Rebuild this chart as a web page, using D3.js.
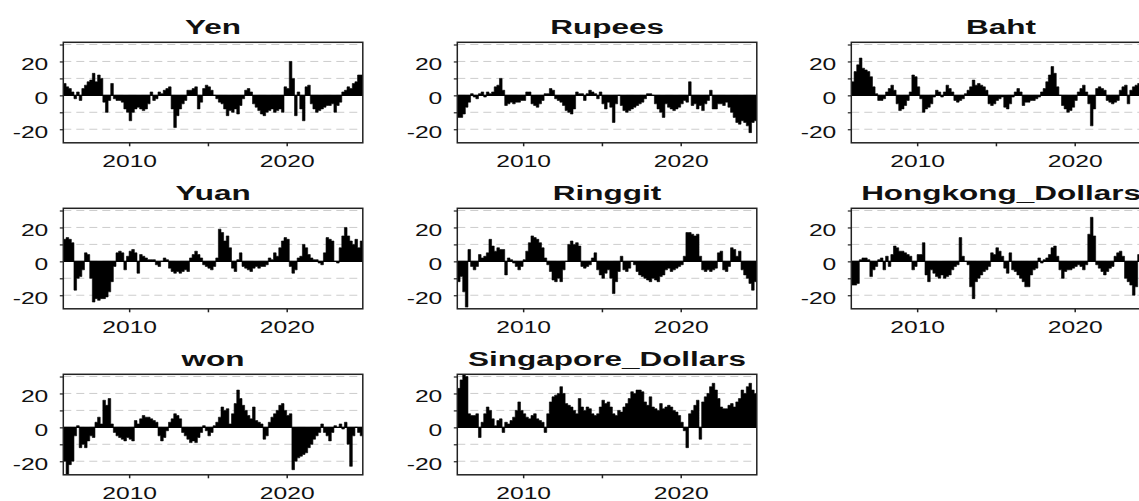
<!DOCTYPE html>
<html>
<head>
<meta charset="utf-8">
<script src="https://cdn.jsdelivr.net/npm/d3@7"></script>
<style>
html, body { margin: 0; padding: 0; background: #fff; overflow: hidden; }
text { font-family: "Liberation Sans", Arial, sans-serif; fill: #111; }
</style>
</head>
<body>
<svg id="chart" width="1139" height="501"></svg>
<script>
// panel titles, in drawing order (row by row)
var currencies = ["Yen", "Rupees", "Baht", "Yuan", "Ringgit", "Hongkong_Dollars", "won", "Singapore_Dollars"];

// one value every two months, first one at late 2005
var startYear = 2005.83;
var stepsPerYear = 6;

var yTicks = [-20, -10, 0, 10, 20, 30];
var yLabels = [-20, 0, 20];
var xTicks = [2010, 2015, 2020];
var xLabels = [2010, 2020];

var yen = [7,5,4,2,-2,2,-3,4,6,8, 9,13,8,12,10,-4,-10,-3,7,-2, -3,-3,-4,-8,-10,-15,-10,-8,-7,-8,
  -9,-8,-5,2,-3,-2,2,1,3,4, 5,-8,-19,-12,-8,-5,-3,3,3,4, 5,-8,-4,4,6,5,3,0,-2,-4,
  -5,-8,-12,-9,-10,-8,-11,-6,-2,3, 4,2,-5,-7,-9,-11,-12,-10,-9,-8, -10,-9,-8,-10,5,4,20,10,-12,2,
  -8,-15,5,6,-5,-8,-10,-9,-8,-7, -6,-6,-5,-10,-6,-4,2,3,5,4, 7,8,12,12];
var rupees = [-13,-13,-11,-7,-4,1,-1,-2,1,2, -1,2,1,2,5,6,10,3,-6,-5, -4,-5,-4,-4,-3,-3,2,2,-5,-6,
  -7,-5,-3,1,1,4,3,-2,-3,-4, -6,-9,-10,-11,-8,2,1,1,-3,1, 3,2,1,-2,2,-5,-8,-4,-7,-16,
  -5,0,-6,-9,-10,-9,-8,-7,-6,-5, -4,-2,1,1,0,-5,-8,-10,-13,-5, -7,-8,-9,-8,-7,-5,-3,-4,8,-6,
  -5,-8,-6,-9,-5,-3,3,-8,-8,-5, -5,-6,-4,-7,-10,-13,-16,-17,-15,-16, -18,-22,-16,-15];
var baht = [8,14,18,22,16,15,14,11,5,1, -3,-3,-2,2,4,6,3,-5,-9,-8, -6,-3,2,12,11,5,-2,-10,-8,-7,
  -5,-1,3,2,-1,2,6,4,2,-3, -4,-3,-2,1,3,5,9,6,7,6, 5,3,-5,-6,-5,-3,-2,-1,-7,-8,
  -5,-1,2,4,2,-6,-4,-4,-3,-3, -2,-1,2,4,8,12,17,13,5,0, -6,-8,-10,-9,-7,-3,2,4,6,2,
  -5,-18,-8,4,5,4,3,-3,-4,-5, -4,-3,3,5,6,-5,3,5,6,7, 5,4,3,2];
var yuan = [13,14,13,11,-17,-10,-9,-5,5,4, -10,-24,-22,-23,-22,-22,-21,-18,-12,-3, 5,6,5,-5,3,6,7,5,-7,4,
  3,2,1,1,1,-2,-3,0,2,1, -4,-6,-7,-6,-7,-6,-5,-6,2,4, 6,4,2,-2,-3,-4,-5,-3,2,19,
  17,12,15,8,-4,-6,1,5,-3,-4, -5,-6,-4,-3,-4,-3,-3,-2,2,1, 5,3,8,12,14,13,-3,-7,-5,2,
  3,10,8,4,2,1,1,-1,-2,5, 14,13,12,0,-1,8,15,20,15,12, 10,13,8,12];
var ringgit = [-12,-9,-18,-27,7,-3,-5,-3,4,2, 3,5,13,9,6,8,7,7,-8,2, 1,-1,-3,-5,-3,1,6,11,15,14,
  13,11,8,2,-2,-6,-11,-12,-10,-12, -5,0,10,12,10,11,9,-3,-4,-3, -2,2,5,-5,-8,-10,-7,-5,-10,-19,
  -12,-6,3,-5,-6,-4,0,-2,-6,-8, -9,-10,-11,-12,-10,-11,-12,-9,-8,-5, -4,-6,-5,-4,-3,-2,3,17,17,16,
  15,16,3,-5,-6,-5,-6,-5,-4,5, 6,-5,-6,-3,8,7,3,6,-5,-8, -10,-13,-17,-12];
var hongkong = [-14,-14,-13,1,2,2,1,-9,-5,-3, 1,2,-5,3,-3,4,9,8,6,6, 5,4,3,-5,-3,4,4,11,-8,-12,
  -5,-7,-9,-10,-8,-10,-9,-8,-5,-3, -2,14,3,0,-2,-15,-22,-12,-10,-8, -6,-5,-3,5,4,8,6,3,-4,-7,
  5,-5,-6,-8,-10,-12,-15,-15,-8,-5, -4,2,-1,1,2,4,8,9,3,-5, -10,-6,-5,-5,-4,-3,-2,-3,-5,-2,
  16,26,15,-2,-4,-6,-8,-6,-4,-3, 3,5,6,3,-10,-12,-14,-20,-15,4, -18,-10,-8,-6];
var won = [-20,-28,-22,-20,-5,1,-12,-10,-12,-8, -5,-6,3,6,2,16,13,17,2,-3, -5,-6,-7,-8,-6,-7,-8,4,2,5,
  7,6,6,5,4,3,-5,-8,-6,-2, 3,5,8,7,5,-3,-5,-7,-9,-8, -9,-6,-3,1,-2,-5,-3,1,3,6,
  12,10,11,2,8,14,22,17,13,10, 7,5,12,4,3,2,-7,-5,3,6, 8,10,13,14,10,7,8,-25,-20,-18,
  -17,-16,-15,-12,-10,-7,-5,-3,2,-3, -5,-8,-3,1,0,2,-1,3,-10,-23, -5,0,-3,-5];
var singapore = [23,28,31,30,8,7,7,8,-6,3, 8,12,10,5,1,4,5,-3,3,2, 4,6,10,15,10,8,6,5,7,8,
  5,4,3,-3,8,15,18,19,20,24, 20,14,13,12,10,8,17,12,10,12, 11,8,7,8,12,16,14,15,12,8,
  7,10,9,12,14,17,21,20,22,22, 21,15,13,18,12,11,10,14,11,12, 13,12,10,9,7,3,-2,-12,8,10,
  13,16,-7,15,18,20,24,26,22,17, 12,11,11,13,14,12,15,17,22,20, 24,26,22,20];

var seriesList = [yen, rupees, baht, yuan, ringgit, hongkong, won, singapore];

// layout (the picture is stretched sideways, so text gets a horizontal scale)
var colLeft = [63.3, 457.3, 851.3];
var rowTop = [42.3, 208.3, 374.3];
var plotW = 299.5, plotH = 100.5;
var tickStretch = 1.45, titleStretch = 1.5;

var svg = d3.select("#chart");

currencies.forEach(function(name, k) {
    var vals = seriesList[k];
    var left = colLeft[k % 3], top = rowTop[Math.floor(k / 3)];
    var g = svg.append("g").attr("transform", "translate(" + left + "," + top + ")");

    var x = d3.scaleLinear().domain([2005.82, 2024.83]).range([0, plotW]);
    var y = d3.scaleLinear().domain([-28, 31.3]).range([plotH, 0]);

    //dashed grid
    g.selectAll("line.grid").data(yTicks).enter().append("line")
        .attr("class", "grid")
        .attr("x1", 0).attr("x2", plotW)
        .attr("y1", function(d) { return y(d); })
        .attr("y2", function(d) { return y(d); })
        .attr("stroke", "#cdcdcd")
        .attr("stroke-width", 1)
        .attr("stroke-dasharray", "8,5");

    //clip
    var clipId = "clip" + k;
    g.append("clipPath").attr("id", clipId)
        .append("rect").attr("width", plotW).attr("height", plotH);

    //bars as a stepped area from zero
    var pts = vals.map(function(v, i) { return { t: startYear + i / stepsPerYear, v: v }; });
    pts.push({ t: startYear + vals.length / stepsPerYear, v: vals[vals.length - 1] });
    var area = d3.area()
        .curve(d3.curveStepAfter)
        .x(function(d) { return x(d.t); })
        .y0(y(0))
        .y1(function(d) { return y(d.v); });
    g.append("path")
        .datum(pts)
        .attr("clip-path", "url(#" + clipId + ")")
        .attr("d", area)
        .attr("fill", "#000")
        .attr("stroke", "#000")
        .attr("stroke-width", 0.6);

    g.append("line")
        .attr("x1", 0).attr("x2", plotW)
        .attr("y1", y(0)).attr("y2", y(0))
        .attr("stroke", "#000").attr("stroke-width", 1.2);

    //frame
    g.append("rect")
        .attr("width", plotW).attr("height", plotH)
        .attr("fill", "none")
        .attr("stroke", "#222")
        .attr("stroke-width", 1.5);

    //axes
    var yAxis = d3.axisLeft(y).tickValues(yTicks).tickSize(3.5).tickSizeOuter(0)
        .tickFormat(function(d) { return yLabels.indexOf(d) >= 0 ? String(d) : ""; });
    var ya = g.append("g").call(yAxis);
    ya.select(".domain").remove();
    ya.selectAll("line").attr("stroke", "#222").attr("stroke-width", 1.2);
    ya.selectAll("text")
        .attr("x", 0).attr("dy", "0.5em")
        .attr("font-size", 17)
        .attr("font-family", "'Liberation Sans', Arial, sans-serif")
        .attr("fill", "#1a1a1a")
        .attr("transform", "translate(-15,0) scale(" + tickStretch + ",1)");

    var xAxis = d3.axisBottom(x).tickValues(xTicks).tickSize(3.5).tickSizeOuter(0)
        .tickFormat(function(d) { return xLabels.indexOf(d) >= 0 ? String(d) : ""; });
    var xa = g.append("g").attr("transform", "translate(0," + plotH + ")").call(xAxis);
    xa.select(".domain").remove();
    xa.selectAll("line").attr("stroke", "#222").attr("stroke-width", 1.5);
    xa.selectAll("text")
        .attr("y", 0).attr("dy", "0.71em")
        .attr("font-size", 17)
        .attr("font-family", "'Liberation Sans', Arial, sans-serif")
        .attr("fill", "#1a1a1a")
        .attr("transform", "translate(0,11.7) scale(" + tickStretch + ",1)");

    //title
    g.append("text")
        .attr("transform", "translate(" + (plotW / 2) + ",-8.5) scale(" + titleStretch + ",1)")
        .attr("text-anchor", "middle")
        .attr("font-size", 21)
        .attr("font-weight", "bold")
        .attr("fill", "#000")
        .text(name);
});
</script>
</body>
</html>
